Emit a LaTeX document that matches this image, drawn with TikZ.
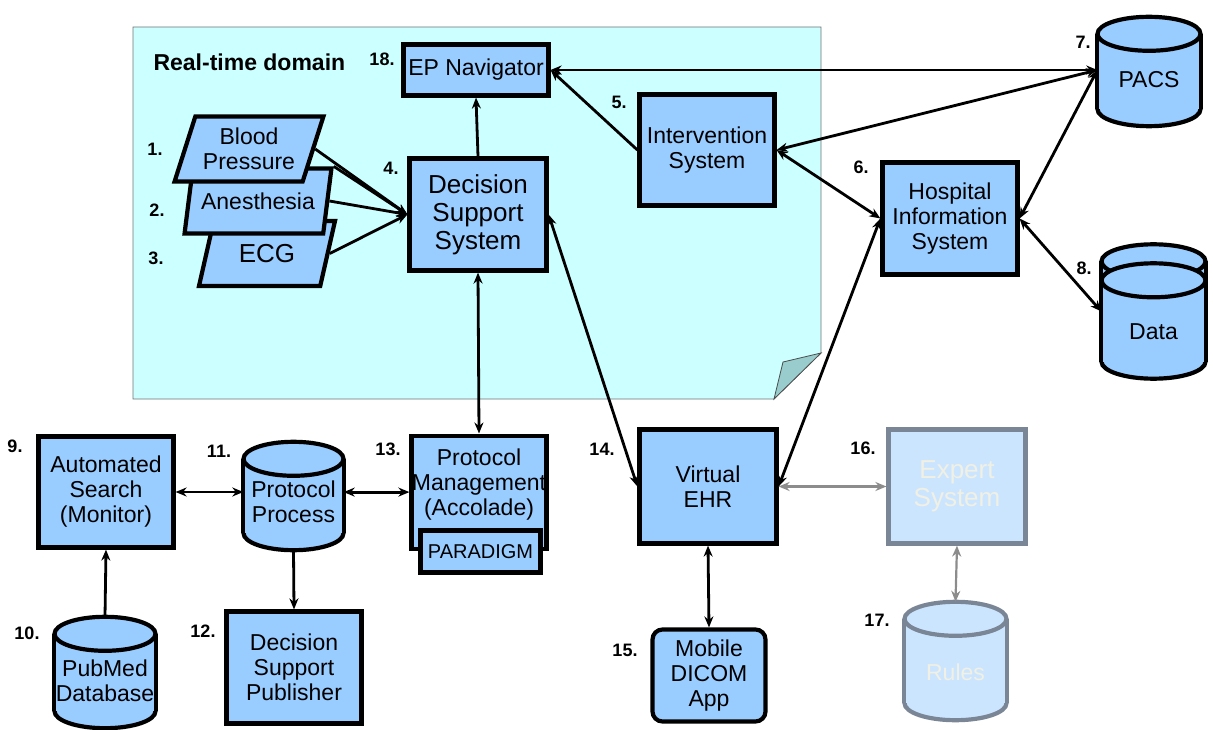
\documentclass[tikz,border=0pt]{standalone}
\usepackage{fontspec}
\setmainfont{Liberation Sans}
\usetikzlibrary{arrows.meta, shapes.geometric}

\definecolor{boxblue}{HTML}{99CCFF}
\definecolor{rtcyan}{HTML}{CCFFFF}
\definecolor{foldteal}{HTML}{99CCCC}
\definecolor{fadeblue}{HTML}{CCE5FF}
\definecolor{fadeline}{HTML}{7A8696}
\definecolor{fadetext}{HTML}{F0F0E4}

% Database drum around a named node: name, x radius, y radius, style
\newcommand{\dbdraw}[4]{%
  \draw[#4] ([yshift=#3]#1.south) ellipse [x radius=#2, y radius=#3];
  \fill[#4, draw=none] ([yshift=-#3]#1.north west) rectangle ([yshift=#3]#1.south east);
  \draw[#4, fill=none] ([yshift=-#3]#1.north west) -- ([yshift=#3]#1.south west)
                       ([yshift=-#3]#1.north east) -- ([yshift=#3]#1.south east);
  \draw[#4] ([yshift=-#3]#1.north) ellipse [x radius=#2, y radius=#3];
}

\begin{document}
\begin{tikzpicture}[x=1pt, y=-1pt,
    % Component box style
    sysbox/.style={
        rectangle,
        draw=black,
        line width=4.2pt,
        fill=boxblue,
        align=center,
        inner sep=0pt,
        font=\fontsize{23}{25}\selectfont
    },
    % Database frame (drum drawn by \dbdraw)
    dbcyl/.style={
        rectangle,
        inner sep=0pt
    },
    dbline/.style={
        draw=black,
        line width=4.2pt,
        fill=boxblue
    },
    % Database text style
    dbtext/.style={
        align=center,
        inner sep=0pt,
        font=\fontsize{23}{25}\selectfont
    },
    % Signal stream style
    stream/.style={
        trapezium,
        trapezium left angle=67,
        trapezium right angle=113,
        trapezium stretches=true,
        draw=black,
        line width=4.2pt,
        fill=boxblue,
        align=center,
        inner sep=0pt,
        minimum height=65pt,
        font=\fontsize{23}{25}\selectfont
    },
    % Faded component style
    faded/.style={
        draw=fadeline,
        fill=fadeblue,
        text=fadetext
    },
    % Number label style
    num/.style={
        font=\fontsize{18}{20}\selectfont\bfseries
    },
    % Arrow styles
    arr/.style={
        -{Stealth[length=11pt, width=9pt]},
        line width=2.8pt
    },
    darr/.style={
        {Stealth[length=11pt, width=9pt]}-{Stealth[length=11pt, width=9pt]},
        line width=2.8pt
    },
    garr/.style={
        darr,
        draw=black!45,
        line width=2.2pt
    }
]
\useasboundingbox (0,0) rectangle (1213,730);

% === Real-time domain panel ===
\draw[draw=black!55, fill=rtcyan, line width=0.8pt]
    (133,27) -- (821,27) -- (821,353) -- (774,399) -- (133,399) -- cycle;
\draw[draw=black!70, fill=foldteal, line width=0.8pt]
    (821,353) -- (783,362) -- (774,399) -- cycle;
\node[font=\fontsize{23}{25}\selectfont\bfseries, anchor=west] (rtlabel) at (150,62) {Real-time domain};

% Signal streams (stacked)
\node[stream, minimum width=137pt, font=\fontsize{26}{28}\selectfont] (ecg) at (267,253.5) {ECG};
\node[stream, minimum width=147pt] (anes) at (258,201) {Anesthesia};
\node[stream, minimum width=149pt] (bp) at (249,149) {Blood\\Pressure};

% Real-time systems
\node[sysbox, minimum width=145pt, minimum height=51pt] (epnav) at (476,70) {EP Navigator};
\node[sysbox, minimum width=137pt, minimum height=112pt, font=\fontsize{26}{28}\selectfont]
    (dss) at (478,214.5) {Decision\\Support\\System};
\node[sysbox, minimum width=135pt, minimum height=111pt] (intv) at (707,150) {Intervention\\System};

% === Hospital side ===
\node[sysbox, minimum width=135pt, minimum height=112pt] (his) at (950,218.5) {Hospital\\Information\\System};
\node[dbcyl, minimum width=103pt, minimum height=109pt] (pacs) at (1149,71.5) {};
\dbdraw{pacs}{51.5pt}{17pt}{dbline}
\node[dbtext] (pacstext) at ([yshift=-8.5pt]pacs.center) {PACS};
\node[dbcyl, minimum width=104pt, minimum height=134pt] (data) at (1153.5,311.5) {};
\dbdraw{data}{52pt}{17pt}{dbline}
\draw[dbline] ([yshift=-36pt]data.north) ellipse [x radius=52pt, y radius=17pt];
\node[dbtext] (datatext) at ([yshift=-20pt]data.center) {Data};

% === Protocol side ===
\node[sysbox, minimum width=135pt, minimum height=111pt] (as) at (106,492) {Automated\\Search\\(Monitor)};
\node[dbcyl, minimum width=101pt, minimum height=111pt] (pubmed) at (105,672.5) {};
\dbdraw{pubmed}{50.5pt}{17pt}{dbline}
\node[dbtext] (pubmedtext) at ([yshift=-8pt]pubmed.center) {PubMed\\Database};
\node[dbcyl, minimum width=100pt, minimum height=108pt] (pp) at (293.5,496) {};
\dbdraw{pp}{50pt}{17pt}{dbline}
\node[dbtext] (pptext) at ([yshift=-6pt]pp.center) {Protocol\\Process};
\node[sysbox, minimum width=135pt, minimum height=112pt] (dsp) at (294,667.5) {Decision\\Support\\Publisher};
\node[sysbox, minimum width=135pt, minimum height=113pt, anchor=north] (pm) at (479,433.5)
    {Protocol\\Management\\(Accolade)\\[-6pt]};
\node[sysbox, minimum width=120pt, minimum height=42pt, font=\fontsize{20}{22}\selectfont]
    (paradigm) at (480.5,551.5) {PARADIGM};

% === EHR side ===
\node[sysbox, minimum width=137pt, minimum height=114pt] (ehr) at (708,486.5) {Virtual\\EHR};
\node[sysbox, rounded corners=10pt, minimum width=113pt, minimum height=92pt] (mobile) at (709,675.5)
    {Mobile\\DICOM\\App};
\node[sysbox, faded, minimum width=137pt, minimum height=114pt, font=\fontsize{26}{28}\selectfont]
    (expert) at (957,486.5) {Expert\\System};
\node[dbcyl, minimum width=102pt, minimum height=118pt] (rules) at (955.5,661) {};
\dbdraw{rules}{51pt}{17pt}{dbline, faded}
\node[dbtext, text=fadetext] (rulestext) at ([yshift=-11pt]rules.center) {Rules};

% === Number labels ===
\node[num] (n1) at (155,149) {1.};
\node[num] (n2) at (157,210) {2.};
\node[num] (n3) at (156,258) {3.};
\node[num] (n4) at (391,168) {4.};
\node[num] (n5) at (619,102) {5.};
\node[num] (n6) at (861,167) {6.};
\node[num] (n7) at (1083,42) {7.};
\node[num] (n8) at (1084,268) {8.};
\node[num] (n9) at (15,446) {9.};
\node[num] (n10) at (27,633) {10.};
\node[num] (n11) at (219,451) {11.};
\node[num] (n12) at (203,631) {12.};
\node[num] (n13) at (388,449) {13.};
\node[num] (n14) at (602,449) {14.};
\node[num] (n15) at (625,650) {15.};
\node[num] (n16) at (863,448) {16.};
\node[num] (n17) at (877,620) {17.};
\node[num] (n18) at (382,59) {18.};

% === Connectors ===
\draw[arr] (bp.east) -- (dss.west);
\draw[arr] (anes.top right corner) -- (dss.west);
\draw[arr] (anes.east) -- (dss.west);
\draw[arr] (ecg.east) -- (dss.west);
\draw[arr] (dss.north) -- (epnav.south);
\draw[arr] (intv.west) -- (epnav.east);
\draw[darr] (pacs.west |- epnav.east) -- (epnav.east);
\draw[darr] (pacs.west |- epnav.east) -- (intv.east);
\draw[darr] (pacs.west |- epnav.east) -- (his.east);
\draw[darr] (intv.east) -- (his.west);
\draw[darr] (his.east) -- (data.west);
\draw[darr] (dss.east) -- (ehr.west);
\draw[darr] (his.west) -- (ehr.east);
\draw[darr] (dss.south) -- (pm.north);
\draw[darr] (as.east) -- (as.east -| pp.west);
\draw[darr] (pm.west -| pp.east) -- (pm.west);
\draw[arr] (pp.south) -- (dsp.north);
\draw[arr] (pubmed.north) -- (as.south);
\draw[darr] (ehr.south) -- (mobile.north);
\draw[garr] (ehr.east) -- (expert.west);
\draw[garr] (expert.south) -- (rules.north);

\end{tikzpicture}
\end{document}
